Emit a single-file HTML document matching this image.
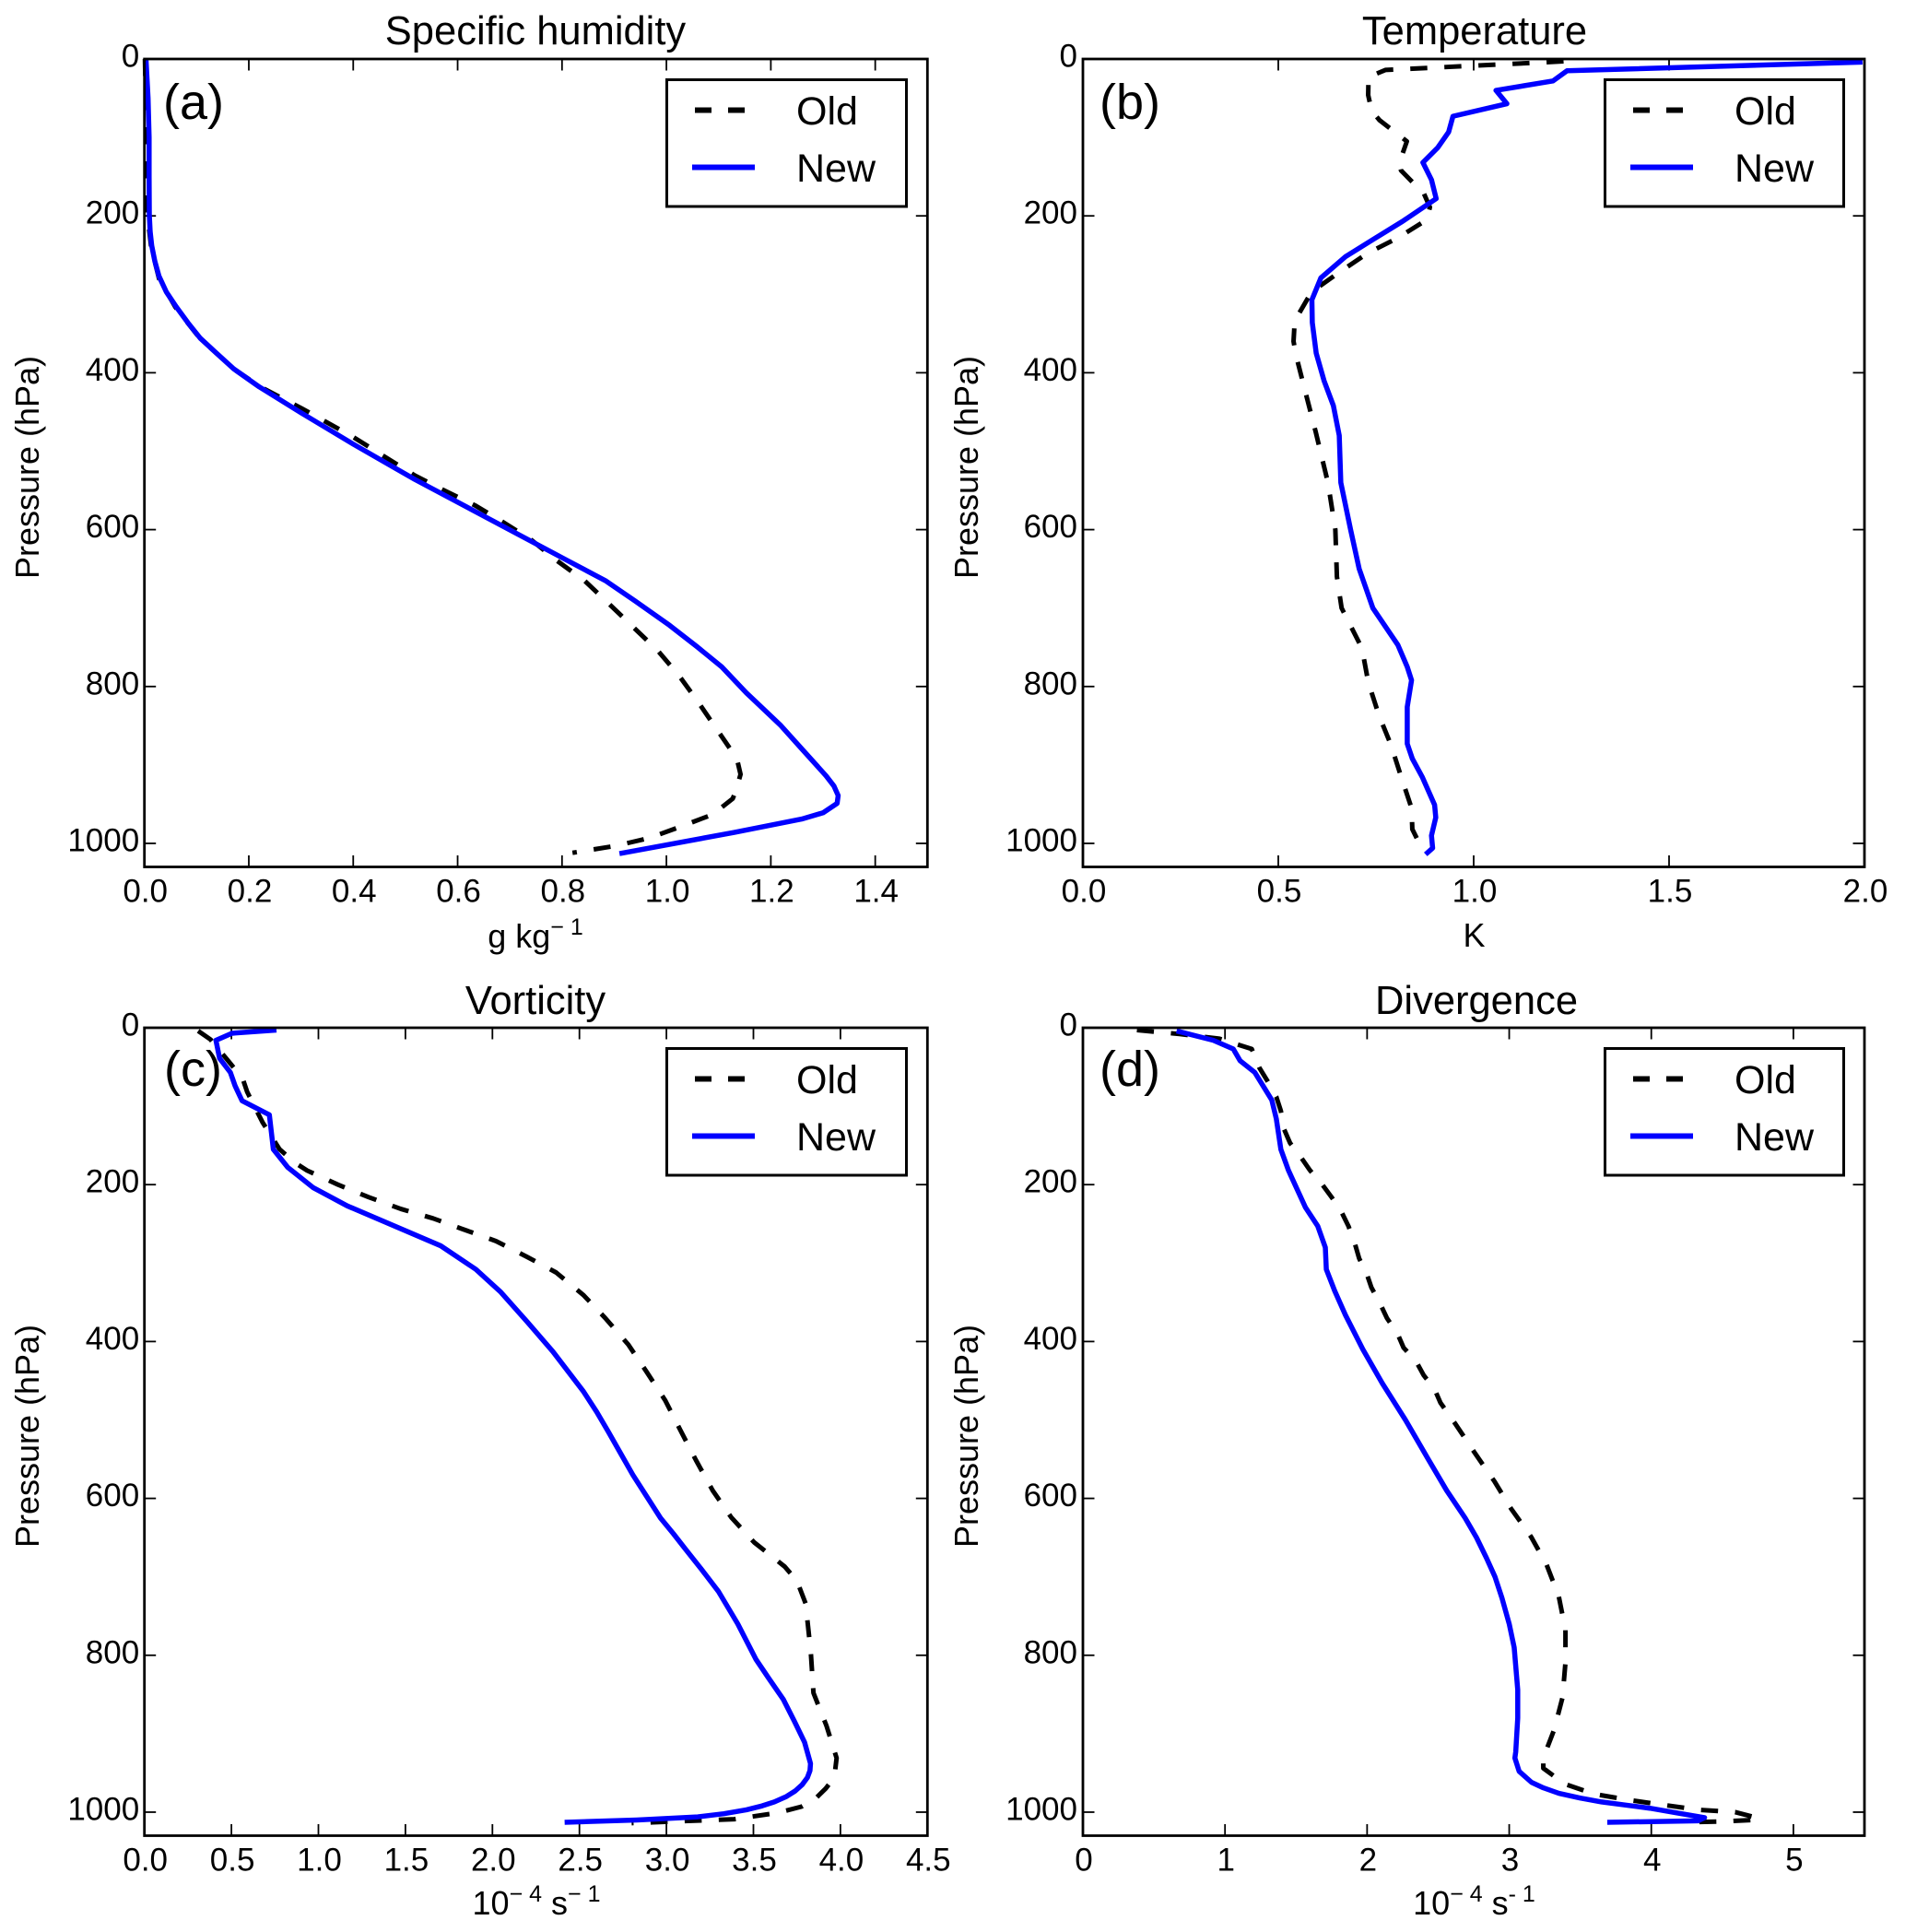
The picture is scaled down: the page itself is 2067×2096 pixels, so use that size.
<!DOCTYPE html>
<html>
<head>
<meta charset="utf-8">
<title>Profiles of specific humidity, temperature, vorticity and divergence</title>
<style>
html,body{margin:0;padding:0;background:#fff;}
svg{display:block;}
text{font-family:"Liberation Sans",sans-serif;fill:#000;}
.tick-label{font-size:35px;}
.axis-label{font-size:36px;}
.title{font-size:43.5px;text-anchor:middle;}
.legend-text{font-size:43px;}
.panel-tag{font-size:54px;}
.spine{fill:none;stroke:#000;stroke-width:2.8;}
.legend-box{fill:#fff;stroke:#000;stroke-width:3;}
</style>
</head>
<body>
<svg id="figure" xmlns="http://www.w3.org/2000/svg" width="2067" height="2096" viewBox="0 0 2067 2096">
  <rect width="2067" height="2096" fill="#fff"/>

  <g>
    <text class="title" x="581" y="48">Specific humidity</text>
    <text class="panel-tag" x="177" y="129">(a)</text>
    <g id="ticks-a"></g>
    <g id="series-a"></g>
    <rect class="spine" x="156.7" y="64" width="849.6" height="876.5"/>
    <text class="axis-label" transform="translate(42 507) rotate(-90)" text-anchor="middle">Pressure (hPa)</text>
    <text class="axis-label" x="581" y="1028" text-anchor="middle">g kg<tspan font-size="25" dy="-14">− 1</tspan></text>
    <g>
      <rect class="legend-box" x="723.5" y="86.5" width="260" height="137.5"/>
      <line x1="754" x2="819" y1="119.5" y2="119.5" stroke="#000" stroke-width="6" stroke-dasharray="18 18"/>
      <line x1="751" x2="819" y1="181.5" y2="181.5" stroke="#0000ff" stroke-width="6"/>
      <text class="legend-text" x="864" y="135">Old</text>
      <text class="legend-text" x="864" y="197">New</text>
    </g>
  </g>

  <g>
    <text class="title" x="1600" y="48">Temperature</text>
    <text class="panel-tag" x="1193" y="129">(b)</text>
    <g id="ticks-b"></g>
    <g id="series-b"></g>
    <rect class="spine" x="1175" y="64" width="848" height="876.5"/>
    <text class="axis-label" transform="translate(1061 507) rotate(-90)" text-anchor="middle">Pressure (hPa)</text>
    <text class="axis-label" x="1599.5" y="1027" text-anchor="middle">K</text>
    <g>
      <rect class="legend-box" x="1741.5" y="86.5" width="259" height="137.5"/>
      <line x1="1772" x2="1837" y1="119.5" y2="119.5" stroke="#000" stroke-width="6" stroke-dasharray="18 18"/>
      <line x1="1769" x2="1837" y1="181.5" y2="181.5" stroke="#0000ff" stroke-width="6"/>
      <text class="legend-text" x="1882" y="135">Old</text>
      <text class="legend-text" x="1882" y="197">New</text>
    </g>
  </g>

  <g>
    <text class="title" x="581" y="1100">Vorticity</text>
    <text class="panel-tag" x="178" y="1178">(c)</text>
    <g id="ticks-c"></g>
    <g id="series-c"></g>
    <rect class="spine" x="156.7" y="1115" width="849.6" height="876.5"/>
    <text class="axis-label" transform="translate(42 1558) rotate(-90)" text-anchor="middle">Pressure (hPa)</text>
    <text class="axis-label" x="582" y="2077" text-anchor="middle">10<tspan font-size="25" dy="-14">− 4</tspan><tspan dy="14"> s</tspan><tspan font-size="25" dy="-14">− 1</tspan></text>
    <g>
      <rect class="legend-box" x="723.5" y="1137.5" width="260" height="137.5"/>
      <line x1="754" x2="819" y1="1170.5" y2="1170.5" stroke="#000" stroke-width="6" stroke-dasharray="18 18"/>
      <line x1="751" x2="819" y1="1232.5" y2="1232.5" stroke="#0000ff" stroke-width="6"/>
      <text class="legend-text" x="864" y="1186">Old</text>
      <text class="legend-text" x="864" y="1248">New</text>
    </g>
  </g>

  <g>
    <text class="title" x="1602" y="1100">Divergence</text>
    <text class="panel-tag" x="1193" y="1178">(d)</text>
    <g id="ticks-d"></g>
    <g id="series-d"></g>
    <rect class="spine" x="1175" y="1115" width="848" height="876.5"/>
    <text class="axis-label" transform="translate(1061 1558) rotate(-90)" text-anchor="middle">Pressure (hPa)</text>
    <text class="axis-label" x="1599.5" y="2077" text-anchor="middle">10<tspan font-size="25" dy="-14">− 4</tspan><tspan dy="14">  s</tspan><tspan font-size="25" dy="-14">- 1</tspan></text>
    <g>
      <rect class="legend-box" x="1741.5" y="1137.5" width="259" height="137.5"/>
      <line x1="1772" x2="1837" y1="1170.5" y2="1170.5" stroke="#000" stroke-width="6" stroke-dasharray="18 18"/>
      <line x1="1769" x2="1837" y1="1232.5" y2="1232.5" stroke="#0000ff" stroke-width="6"/>
      <text class="legend-text" x="1882" y="1186">Old</text>
      <text class="legend-text" x="1882" y="1248">New</text>
    </g>
  </g>
</svg>

<script>
// Shared y axis
const pressureTicks = [0, 200, 400, 600, 800, 1000];

// X tick labels
const xTicksA = ['0.0', '0.2', '0.4', '0.6', '0.8', '1.0', '1.2', '1.4'];
const xTicksB = ['0.0', '0.5', '1.0', '1.5', '2.0'];
const xTicksC = ['0.0', '0.5', '1.0', '1.5', '2.0', '2.5', '3.0', '3.5', '4.0', '4.5'];
const xTicksD = ['0', '1', '2', '3', '4', '5'];

// Panel (a) specific humidity
const pressureOldA = [0, 100, 200, 240, 280, 316, 356, 395, 418, 445, 482, 531, 550, 569, 590, 613, 640, 665, 694, 724, 754, 786, 821, 857, 892, 912, 933, 943, 963, 978, 993, 1003, 1012];
const valueOldA = [0.001, 0.004, 0.006, 0.013, 0.028, 0.059, 0.106, 0.171, 0.222, 0.3, 0.4, 0.518, 0.574, 0.633, 0.686, 0.741, 0.791, 0.843, 0.889, 0.936, 0.983, 1.024, 1.062, 1.099, 1.135, 1.142, 1.133, 1.127, 1.089, 1.03, 0.968, 0.904, 0.82];
const pressureNewA = [0, 50, 100, 150, 199, 220, 238, 258, 277, 297, 316, 336, 356, 375, 395, 418, 451, 491, 536, 640, 665, 691, 722, 750, 775, 808, 849, 880, 914, 927, 939, 949, 961, 969, 986, 1013];
const valueNewA = [0.003, 0.007, 0.009, 0.009, 0.0094, 0.011, 0.014, 0.02, 0.028, 0.042, 0.061, 0.083, 0.107, 0.138, 0.171, 0.22, 0.3, 0.4, 0.518, 0.812, 0.883, 0.94, 1.006, 1.06, 1.106, 1.153, 1.218, 1.26, 1.306, 1.321, 1.329, 1.327, 1.3, 1.259, 1.13, 0.91];

// Panel (b) temperature
const pressureOldB = [3, 14, 23, 46, 66, 78, 105, 132, 142, 172, 189, 205, 228, 248, 273, 297, 334, 360, 379, 418, 476, 540, 600, 660, 700, 751, 794, 836, 874, 916, 955, 982, 1000, 1010];
const valueOldB = [1.23, 0.774, 0.731, 0.73, 0.739, 0.759, 0.829, 0.81, 0.814, 0.873, 0.888, 0.88, 0.806, 0.727, 0.653, 0.585, 0.542, 0.539, 0.546, 0.566, 0.596, 0.627, 0.646, 0.65, 0.662, 0.714, 0.73, 0.757, 0.788, 0.815, 0.841, 0.843, 0.861, 0.875];
const pressureNewB = [4, 15, 28, 40, 57, 73, 93, 113, 132, 154, 178, 207, 230, 252, 279, 307, 336, 375, 410, 442, 480, 540, 600, 650, 700, 747, 775, 792, 826, 873, 892, 916, 951, 967, 990, 1006, 1014];
const valueNewB = [1.995, 1.239, 1.203, 1.057, 1.085, 0.947, 0.936, 0.908, 0.87, 0.892, 0.904, 0.818, 0.743, 0.672, 0.609, 0.586, 0.587, 0.597, 0.617, 0.641, 0.656, 0.66, 0.685, 0.707, 0.742, 0.806, 0.83, 0.841, 0.83, 0.83, 0.843, 0.869, 0.9, 0.903, 0.892, 0.895, 0.877];

// Panel (c) vorticity
const pressureOldC = [4, 15, 41, 65, 82, 121, 155, 172, 182, 200, 216, 231, 243, 256, 272, 292, 312, 341, 370, 404, 439, 475, 513, 551, 590, 624, 656, 687, 705, 734, 797, 848, 890, 931, 950, 960, 970, 982, 993, 1001, 1009, 1014];
const valueOldC = [0.309, 0.38, 0.477, 0.565, 0.591, 0.68, 0.777, 0.865, 0.935, 1.112, 1.289, 1.474, 1.659, 1.82, 2.021, 2.198, 2.366, 2.524, 2.648, 2.781, 2.887, 2.993, 3.08, 3.169, 3.266, 3.372, 3.504, 3.68, 3.75, 3.8, 3.83, 3.845, 3.92, 3.978, 3.968, 3.95, 3.915, 3.86, 3.776, 3.636, 3.39, 2.8];
const pressureNewC = [3, 7, 16, 39, 57, 74, 93, 111, 155, 178, 204, 227, 278, 308, 337, 375, 413, 464, 490, 515, 540, 570, 597, 625, 645, 664, 690, 719, 760, 805, 830, 856, 884, 911, 938, 947, 956, 965, 973, 980, 987, 992, 997, 1002, 1006, 1010, 1013];
const valueNewC = [0.759, 0.503, 0.411, 0.432, 0.494, 0.521, 0.561, 0.718, 0.741, 0.824, 0.971, 1.165, 1.703, 1.905, 2.048, 2.2, 2.348, 2.524, 2.6, 2.666, 2.73, 2.807, 2.885, 2.966, 3.04, 3.107, 3.2, 3.3, 3.41, 3.514, 3.59, 3.671, 3.735, 3.794, 3.828, 3.825, 3.81, 3.78, 3.74, 3.69, 3.62, 3.55, 3.46, 3.33, 3.18, 2.83, 2.415];

// Panel (d) divergence
const pressureOldD = [3, 8, 14, 27, 51, 67, 88, 106, 129, 147, 165, 182, 200, 216, 233, 253, 274, 294, 314, 331, 353, 370, 390, 408, 425, 443, 460, 478, 506, 541, 578, 613, 649, 684, 725, 768, 809, 854, 895, 931, 944, 964, 977, 985, 997, 1000, 1008, 1010, 1012, 1013];
const valueOldD = [0.38, 0.68, 0.961, 1.188, 1.242, 1.296, 1.361, 1.393, 1.415, 1.458, 1.534, 1.599, 1.685, 1.75, 1.815, 1.869, 1.912, 1.944, 1.998, 2.03, 2.095, 2.139, 2.214, 2.257, 2.344, 2.398, 2.473, 2.516, 2.625, 2.754, 2.895, 3.013, 3.154, 3.262, 3.349, 3.396, 3.396, 3.375, 3.316, 3.24, 3.24, 3.39, 3.6, 3.86, 4.33, 4.59, 4.76, 4.715, 4.48, 4.22];
const pressureNewD = [4, 16, 27, 42, 57, 92, 116, 155, 182, 229, 253, 280, 308, 335, 366, 410, 453, 500, 550, 590, 625, 650, 676, 700, 727, 760, 790, 844, 880, 923, 931, 948, 962, 969, 976, 982, 987, 991, 995, 1001, 1007, 1011, 1013];
const valueNewD = [0.659, 0.918, 1.058, 1.106, 1.21, 1.329, 1.361, 1.393, 1.447, 1.566, 1.653, 1.706, 1.713, 1.771, 1.847, 1.97, 2.106, 2.27, 2.43, 2.56, 2.69, 2.77, 2.84, 2.9, 2.949, 3.0, 3.035, 3.06, 3.06, 3.046, 3.04, 3.07, 3.157, 3.24, 3.35, 3.5, 3.65, 3.82, 3.99, 4.18, 4.375, 4.33, 3.69];

const SVG_NS = 'http://www.w3.org/2000/svg';
const PRESSURE_MAX = 1030;

function makeXScale(left, right, xMax) {
  return function (v) { return left + (v / xMax) * (right - left); };
}
function makeYScale(top, bottom) {
  return function (p) { return top + (p / PRESSURE_MAX) * (bottom - top); };
}

function addTickLine(group, x1, y1, x2, y2) {
  const line = document.createElementNS(SVG_NS, 'line');
  line.setAttribute('x1', x1);
  line.setAttribute('y1', y1);
  line.setAttribute('x2', x2);
  line.setAttribute('y2', y2);
  line.setAttribute('stroke', '#000');
  line.setAttribute('stroke-width', '1.8');
  
  
  group.appendChild(line);
}

function addTickLabel(group, x, y, anchor, label, name) {
  const text = document.createElementNS(SVG_NS, 'text');
  text.setAttribute('class', 'tick-label');
  text.setAttribute('x', x);
  text.setAttribute('y', y);
  text.setAttribute('text-anchor', anchor);
  
  
  text.textContent = label;
  group.appendChild(text);
}

function drawAxes(id, xLabels, left, right, top, bottom, xMax, yLabelGap) {
  const group = document.getElementById(id);
  const xs = makeXScale(left, right, xMax);
  const ys = makeYScale(top, bottom);
  const TICK = 12.5;
  xLabels.forEach(function (label) {
    const v = parseFloat(label);
    const x = xs(v);
    addTickLine(group, x, top, x, top + TICK);
    addTickLine(group, x, bottom, x, bottom - TICK);
    addTickLabel(group, x + 1, bottom + 38, 'middle', label, 'x-tick-label');
  });
  pressureTicks.forEach(function (p) {
    const y = ys(p);
    addTickLine(group, left, y, left + TICK, y);
    addTickLine(group, right, y, right - TICK, y);
    addTickLabel(group, left - yLabelGap, y + 8.5, 'end', String(p), 'y-tick-label');
  });
}

function drawSeries(id, pressures, values, left, right, top, bottom, xMax, isOld, name) {
  const group = document.getElementById(id);
  const xs = makeXScale(left, right, xMax);
  const ys = makeYScale(top, bottom);
  const path = document.createElementNS(SVG_NS, 'path');
  let d = '';
  for (let i = 0; i < values.length; i++) {
    d += (i === 0 ? 'M' : 'L') + xs(values[i]).toFixed(2) + ' ' + ys(pressures[i]).toFixed(2);
  }
  path.setAttribute('d', d);
  path.setAttribute('fill', 'none');
  path.setAttribute('stroke', isOld ? '#000000' : '#0000ff');
  path.setAttribute('stroke-width', isOld ? '5' : '5.5');
  path.setAttribute('stroke-linejoin', 'round');
  if (isOld) {
    path.setAttribute('stroke-dasharray', '18.5 18.5');
  }
  
  
  group.appendChild(path);
}

drawAxes('ticks-a', xTicksA, 156.7, 1006.3, 64, 940.5, 1.5, 5.5);
drawAxes('ticks-b', xTicksB, 1175, 2023, 64, 940.5, 2.0, 6);
drawAxes('ticks-c', xTicksC, 156.7, 1006.3, 1115, 1991.5, 4.5, 5.5);
drawAxes('ticks-d', xTicksD, 1175, 2023, 1115, 1991.5, 5.5, 6);

drawSeries('series-a', pressureOldA, valueOldA, 156.7, 1006.3, 64, 940.5, 1.5, true, 'line-old-humidity');
drawSeries('series-a', pressureNewA, valueNewA, 156.7, 1006.3, 64, 940.5, 1.5, false, 'line-new-humidity');
drawSeries('series-b', pressureOldB, valueOldB, 1175, 2023, 64, 940.5, 2.0, true, 'line-old-temperature');
drawSeries('series-b', pressureNewB, valueNewB, 1175, 2023, 64, 940.5, 2.0, false, 'line-new-temperature');
drawSeries('series-c', pressureOldC, valueOldC, 156.7, 1006.3, 1115, 1991.5, 4.5, true, 'line-old-vorticity');
drawSeries('series-c', pressureNewC, valueNewC, 156.7, 1006.3, 1115, 1991.5, 4.5, false, 'line-new-vorticity');
drawSeries('series-d', pressureOldD, valueOldD, 1175, 2023, 1115, 1991.5, 5.5, true, 'line-old-divergence');
drawSeries('series-d', pressureNewD, valueNewD, 1175, 2023, 1115, 1991.5, 5.5, false, 'line-new-divergence');
</script>
</body>
</html>
